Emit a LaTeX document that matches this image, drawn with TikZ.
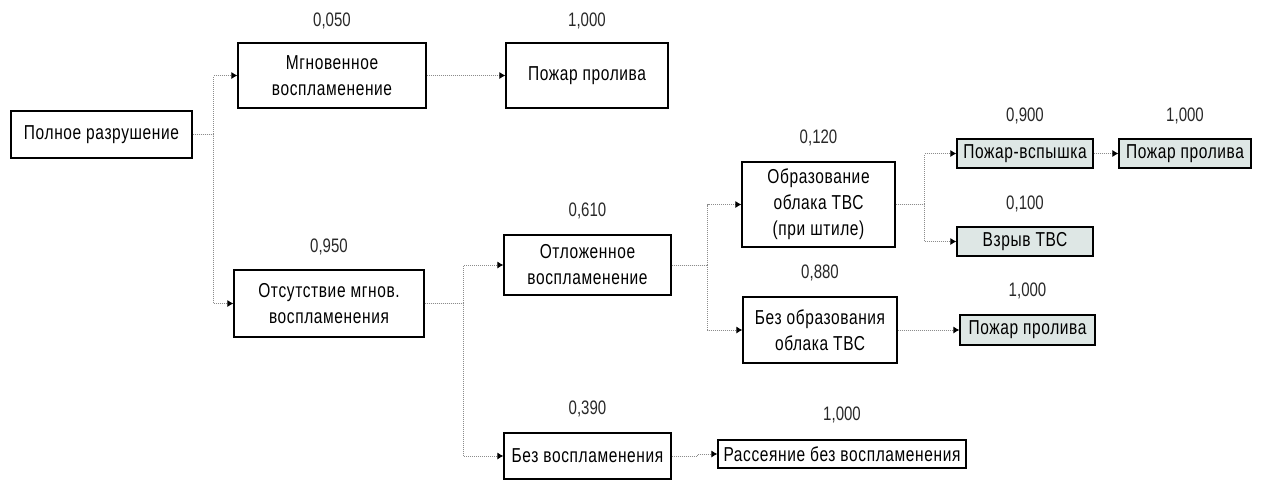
\documentclass[tikz,border=0pt]{standalone}
\usepackage{fontspec}
\usepackage{graphicx}
\setmainfont{Liberation Sans}
\newfontfamily\boxfont[LetterSpace=4]{Liberation Sans}
\usetikzlibrary{arrows.meta}
\newcommand\vs[1]{\scalebox{1}[1.3]{#1}}
\definecolor{leaf}{RGB}{222,231,229}
\definecolor{lblc}{RGB}{40,40,40}
\definecolor{connc}{RGB}{140,140,140}
\tikzset{
  box/.style={draw=black, line width=1.2pt, fill=white, inner sep=0pt, align=center,
    font=\boxfont\fontsize{15.5}{26}\selectfont},
  leafbox/.style={box, fill=leaf},
  lbl/.style={inner sep=0pt, text=lblc, font=\fontsize{15}{18}\selectfont},
  conn/.style={draw=connc, line width=0.9pt, dash pattern=on 1pt off 1pt,
    -{Latex[length=6pt,width=7pt,color=black]}},
}
\begin{document}
\begin{tikzpicture}[x=1pt,y=-1pt]
\path[use as bounding box] (0,0) rectangle (1261,480);
% boxes
\node[box, minimum width=181pt, minimum height=47pt] (A) at (101.5,134.5) {\vs{Полное разрушение}};
\node[box, minimum width=188pt, minimum height=65pt] (B) at (332,75.5) {\vs{Мгновенное}\\\vs{воспламенение}};
\node[box, minimum width=162pt, minimum height=65pt] (C) at (587,75.5) {\vs{Пожар пролива}};
\node[box, minimum width=190pt, minimum height=67pt] (D) at (329,303.5) {\vs{Отсутствие мгнов.}\\\vs{воспламенения}};
\node[box, minimum width=167pt, minimum height=60pt] (E) at (587.5,265) {\vs{Отложенное}\\\vs{воспламенение}};
\node[box, minimum width=167pt, minimum height=46pt] (F) at (587.5,456) {\vs{Без воспламенения}};
\node[box, minimum width=153pt, minimum height=85pt] (G) at (818.5,204.5) {\vs{Образование}\\\vs{облака ТВС}\\\vs{(при штиле)}};
\node[box, minimum width=154pt, minimum height=66pt] (H) at (820,330) {\vs{Без образования}\\\vs{облака ТВС}};
\node[box, minimum width=248pt, minimum height=28pt] (I) at (842,454) {\vs{Рассеяние без воспламенения}};
\node[leafbox, minimum width=136pt, minimum height=29pt] (J) at (1025,153.5) {\vs{Пожар-вспышка}};
\node[leafbox, minimum width=132pt, minimum height=29pt] (K) at (1185,153.5) {\vs{Пожар пролива}};
\node[leafbox, minimum width=136pt, minimum height=29pt] (L) at (1025,241.5) {\vs{Взрыв ТВС}};
\node[leafbox, minimum width=135pt, minimum height=30pt] (M) at (1027.5,330) {\vs{Пожар пролива}};
% probabilities
\node[lbl] (lB) at ([yshift=21pt]B.north) {\vs{0,050}};
\node[lbl] (lC) at ([yshift=21pt]C.north) {\vs{1,000}};
\node[lbl] (lD) at ([yshift=22pt]D.north) {\vs{0,950}};
\node[lbl] (lE) at ([yshift=23pt]E.north) {\vs{0,610}};
\node[lbl] (lF) at ([yshift=23pt]F.north) {\vs{0,390}};
\node[lbl] (lG) at ([yshift=23pt]G.north) {\vs{0,120}};
\node[lbl] (lH) at ([yshift=23pt]H.north) {\vs{0,880}};
\node[lbl] (lI) at ([yshift=24pt]I.north) {\vs{1,000}};
\node[lbl] (lJ) at ([yshift=22pt]J.north) {\vs{0,900}};
\node[lbl] (lK) at ([yshift=22pt]K.north) {\vs{1,000}};
\node[lbl] (lL) at ([yshift=22pt]L.north) {\vs{0,100}};
\node[lbl] (lM) at ([yshift=23pt]M.north) {\vs{1,000}};
% connectors
\draw[conn] (A.east) -- ++(21,0) |- (B.west);
\draw[conn] (A.east) -- ++(21,0) |- (D.west);
\draw[conn] (B.east) -- (C.west);
\draw[conn] (D.east) -- ++(39,0) |- (E.west);
\draw[conn] (D.east) -- ++(39,0) |- (F.west);
\draw[conn] (E.east) -- ++(36,0) |- (G.west);
\draw[conn] (E.east) -- ++(36,0) |- (H.west);
\draw[conn] (F.east) -- ++(26,0) |- (I.west);
\draw[conn] (G.east) -- ++(29,0) |- (J.west);
\draw[conn] (G.east) -- ++(29,0) |- (L.west);
\draw[conn] (J.east) -- (K.west);
\draw[conn] (H.east) -- (M.west);
\end{tikzpicture}
\end{document}
